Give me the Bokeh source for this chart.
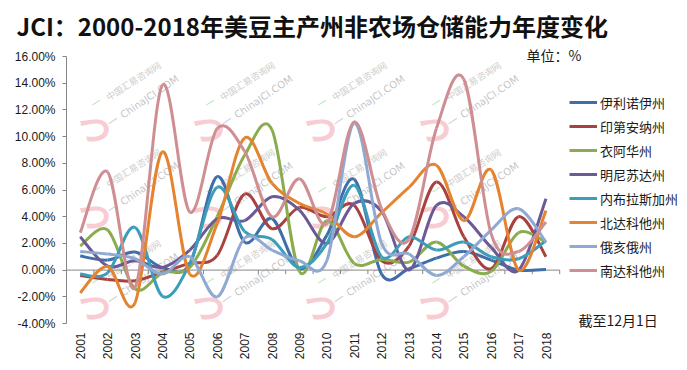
import numpy as np
from bokeh.plotting import figure
from bokeh.models import (ColumnDataSource, Range1d, FixedTicker, PrintfTickFormatter,
                          Legend, LegendItem, Label, Title)
from bokeh.embed import file_html
from bokeh.resources import INLINE

# ---------------- data (percent) ----------------
years = ["2001", "2002", "2003", "2004", "2005", "2006", "2007", "2008", "2009",
         "2010", "2011", "2012", "2013", "2014", "2015", "2016", "2017", "2018"]
y_ticks = [-4, -2, 0, 2, 4, 6, 8, 10, 12, 14, 16]

illinois = [1.05, 0.75, 1.35, 0.2, 0.45, 7.0, 2.1, 3.85, 0.1, 2.6, 6.8, -0.3, 0.1, 0.9, 1.4, 0.75, 0.0, 0.05]
indiana = [-0.4, -0.7, -0.8, -0.15, 0.5, 1.1, 5.7, 3.1, 4.7, 4.0, 4.85, 0.7, 1.8, 6.6, 2.5, 0.1, 4.0, 1.0]
iowa = [1.8, 3.0, -1.4, -0.2, 0.2, 4.0, 8.6, 10.5, -0.1, 3.7, 0.5, 0.8, 0.6, 2.1, 0.3, -0.1, 2.8, 2.1]
minnesota = [2.5, 0.3, 0.7, 0.2, 1.5, 3.85, 3.7, 5.5, 4.5, 2.0, 5.0, 4.4, 0.0, 4.85, 4.0, 1.7, 0.0, 5.35]
nebraska = [-0.3, -0.2, 3.2, -1.95, 0.5, 6.2, 2.9, 2.3, 0.2, 2.0, 6.35, 1.0, 2.5, 1.5, 2.1, 1.0, 0.85, 2.2]
north_dakota = [-1.7, 0.27, -2.45, 8.85, -0.3, 3.5, 9.9, 6.5, 5.0, 4.2, 2.5, 4.3, 6.2, 7.85, 3.7, 7.5, 0.0, 4.45]
ohio = [1.4, 1.2, 0.85, -0.3, 1.0, -2.0, 2.4, 1.5, 0.7, 0.7, 11.0, 2.0, 1.2, -0.4, 1.0, 3.0, 4.6, 2.1]
south_dakota = [2.8, 7.35, -1.3, 13.85, 4.35, 10.6, 8.9, 4.0, 6.85, 3.5, 11.1, 4.6, 2.3, 10.6, 14.3, 2.7, 1.4, 3.6]

names = ["伊利诺伊州", "印第安纳州", "衣阿华州", "明尼苏达州", "内布拉斯加州", "北达科他州", "俄亥俄州", "南达科他州"]
series = [illinois, indiana, iowa, minnesota, nebraska, north_dakota, ohio, south_dakota]
colors = ["#3f6ea8", "#a8413f", "#8bac4e", "#6c5a96", "#3c9dbb", "#e4842f", "#8fa9d3", "#cf8e92"]

CJK = "Noto Sans CJK SC"
AXIS_GRAY = "#868686"

# layout constants (pixels)
FIG_W, FIG_H = 687, 370
LEFT, TOP = 66, 47
FRAME_BOTTOM = 330          # frame extends a little below the -4% tick
AXIS_TOP_PX = 56            # pixel row of the 16% tick
AXIS_BOTTOM_PX = 323        # pixel row of the -4% tick
PX_PER_CAT = 27.4
PX_PER_PCT = (AXIS_BOTTOM_PX - AXIS_TOP_PX) / (y_ticks[-1] - y_ticks[0])


def smooth_segments(xs, ys):
    """Cubic Bezier control points for a smoothed line through the points."""
    P = np.column_stack([xs, ys]).astype(float)
    prev = np.vstack([P[:1], P[:-1]])
    nxt = np.vstack([P[1:], P[-1:]])
    T = (nxt - prev) / 6.0
    return dict(x0=P[:-1, 0], y0=P[:-1, 1], x1=P[1:, 0], y1=P[1:, 1],
                cx0=P[:-1, 0] + T[:-1, 0], cy0=P[:-1, 1] + T[:-1, 1],
                cx1=P[1:, 0] - T[1:, 0], cy1=P[1:, 1] - T[1:, 1])


xpos = np.arange(1, len(years) + 1)
x_end = 0.5 + (FIG_W - LEFT) / PX_PER_CAT
y_start = y_ticks[0] - (FRAME_BOTTOM - AXIS_BOTTOM_PX) / PX_PER_PCT
y_end = y_ticks[-1] + (AXIS_TOP_PX - TOP) / PX_PER_PCT

p = figure(width=FIG_W, height=FIG_H, x_range=Range1d(0.5, x_end),
           y_range=Range1d(y_start, y_end), output_backend="svg",
           toolbar_location=None, min_border_left=LEFT, min_border_right=0,
           min_border_top=TOP, min_border_bottom=FIG_H - FRAME_BOTTOM)
p.outline_line_color = None
p.xgrid.visible = False
p.ygrid.visible = False
p.background_fill_color = "white"

p.title = Title(text="JCI：2000-2018年美豆主产州非农场仓储能力年度变化",
                text_font=CJK, text_font_size="24px", text_font_style="bold",
                text_color="#111111", align="left", offset=-50, standoff=10)


def fx(px):
    return px - LEFT


def fy(py):
    return FRAME_BOTTOM - py


# y axis
ya = p.yaxis[0]
ya.ticker = FixedTicker(ticks=y_ticks)
ya.bounds = (y_ticks[0], y_ticks[-1])
ya.formatter = PrintfTickFormatter(format="%.2f%%")
ya.axis_line_color = AXIS_GRAY
ya.major_tick_line_color = AXIS_GRAY
ya.major_tick_out = 4
ya.major_tick_in = 0
ya.minor_tick_line_color = None
ya.major_label_text_font = "Liberation Sans"
ya.major_label_text_font_size = "12px"
ya.major_label_text_color = "#1a1a1a"
ya.major_label_standoff = 7

# x axis (labels only, at bottom)
xa = p.xaxis[0]
xa.ticker = FixedTicker(ticks=list(xpos))
xa.major_label_overrides = {int(i): y for i, y in zip(xpos, years)}
xa.major_label_orientation = np.pi / 2
xa.axis_line_color = None
xa.major_tick_line_color = None
xa.major_tick_out = 0
xa.major_tick_in = 0
xa.minor_tick_line_color = None
xa.major_label_text_font = "Liberation Sans"
xa.major_label_text_font_size = "12px"
xa.major_label_text_color = "#1a1a1a"
xa.major_label_standoff = 2

# ---------------- watermark (faint, behind the data) ----------------
wm_cols = [110, 224, 336, 450]
wm_rows = [103, 190, 281]
for ry in wm_rows:
    for cx in wm_cols:
        x0, y0 = fx(cx), fy(ry)
        p.add_layout(Label(x=x0 - 16, y=y0 - 24, x_units="screen", y_units="screen",
                           text="つ", text_font=CJK, text_font_size="34px",
                           text_font_style="bold", text_color="#f6bcc5", text_alpha=0.75,
                           text_align="center", text_baseline="middle", angle=-0.15,
                           level="underlay"))
        p.add_layout(Label(x=x0, y=y0, x_units="screen", y_units="screen",
                           text="中国汇易咨询网", text_font=CJK, text_font_size="9px",
                           text_color="#bdbdbd", text_alpha=0.8, angle=0.57,
                           level="underlay"))
        p.add_layout(Label(x=x0 - 15, y=y0 - 7, x_units="screen", y_units="screen",
                           text="━", text_font=CJK, text_font_size="9px",
                           text_color="#9fe09f", text_alpha=0.7, angle=0.57,
                           level="underlay"))
        p.add_layout(Label(x=x0 + 14, y=y0 - 17, x_units="screen", y_units="screen",
                           text="ChinaJCI.COM", text_font="DejaVu Sans", text_font_size="10px",
                           text_color="#b5b5b5", text_alpha=0.8, angle=0.6,
                           level="underlay"))
        p.add_layout(Label(x=x0 + 2, y=y0 - 26, x_units="screen", y_units="screen",
                           text="━", text_font=CJK, text_font_size="10px",
                           text_color="#c8c8d8", text_alpha=0.8, angle=0.6,
                           level="underlay"))

# horizontal category axis line at 0 with ticks between categories
bounds = np.arange(xpos[0] - 0.5, xpos[-1] + 1.0, 1.0)
p.segment(x0=[bounds[0]], y0=[0], x1=[bounds[-1]], y1=[0], line_color=AXIS_GRAY, line_width=1)
p.segment(x0=bounds, y0=np.zeros_like(bounds), x1=bounds, y1=np.full_like(bounds, -4 / PX_PER_PCT),
          line_color=AXIS_GRAY, line_width=1)

items = []
for name, vals, col in zip(names, series, colors):
    src = ColumnDataSource(smooth_segments(xpos, vals))
    r = p.bezier(x0="x0", y0="y0", x1="x1", y1="y1", cx0="cx0", cy0="cy0",
                 cx1="cx1", cy1="cy1", source=src, line_color=col, line_width=3)
    items.append(LegendItem(label=name, renderers=[r]))

legend = Legend(items=items, location=(fx(569), fy(280)), orientation="vertical",
                glyph_width=28, glyph_height=20, label_height=20, label_standoff=3,
                spacing=4, padding=0, margin=0, border_line_color=None,
                background_fill_alpha=0, label_text_font=CJK,
                label_text_font_size="13px", label_text_color="#1a1a1a")
p.add_layout(legend)

p.add_layout(Label(x=fx(526), y=fy(54), x_units="screen", y_units="screen",
                   text="单位：%", text_font=CJK, text_font_size="14px",
                   text_baseline="middle", text_color="#1a1a1a"))
p.add_layout(Label(x=fx(578), y=fy(319), x_units="screen", y_units="screen",
                   text="截至12月1日", text_font=CJK, text_font_size="14px",
                   text_baseline="middle", text_color="#1a1a1a"))

open("out.html", "w").write(file_html(p, INLINE))
